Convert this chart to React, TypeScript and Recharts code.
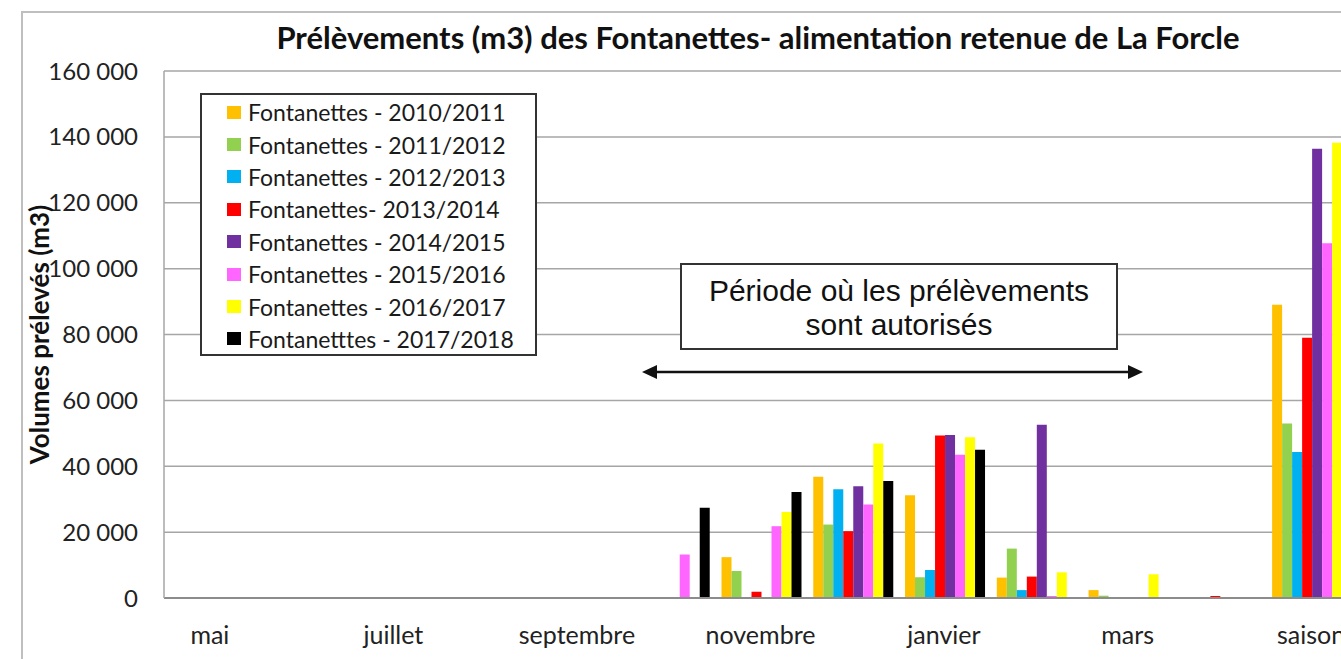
import { BarChart, Bar, CartesianGrid, XAxis, YAxis, Legend } from "recharts";

const months = [
  "mai",
  "juin",
  "juillet",
  "août",
  "septembre",
  "octobre",
  "novembre",
  "décembre",
  "janvier",
  "février",
  "mars",
  "avril",
  "saison",
];

const yTicks = [0, 20000, 40000, 60000, 80000, 100000, 120000, 140000, 160000];

const s2010 = [0, 0, 0, 0, 0, 0, 12400, 36800, 31200, 6200, 2400, 0, 89000];
const s2011 = [0, 0, 0, 0, 0, 0, 8200, 22300, 6300, 15000, 700, 0, 53000];
const s2012 = [0, 0, 0, 0, 0, 0, 0, 33000, 8500, 2400, 0, 0, 44300];
const s2013 = [0, 0, 0, 0, 0, 0, 1900, 20300, 49300, 6500, 0, 600, 79000];
const s2014 = [0, 0, 0, 0, 0, 0, 0, 33900, 49500, 52600, 0, 0, 136400];
const s2015 = [0, 0, 0, 0, 0, 13200, 21800, 28400, 43500, 600, 0, 0, 107700];
const s2016 = [0, 0, 0, 0, 0, 0, 26100, 46900, 48800, 7800, 7200, 0, 138200];
const s2017 = [0, 0, 0, 0, 0, 27400, 32200, 35500, 45000, 0, 0, 0, 140000];

const series = [
  { key: "s2010", name: "Fontanettes - 2010/2011", color: "#FFC000", values: s2010 },
  { key: "s2011", name: "Fontanettes - 2011/2012", color: "#92D050", values: s2011 },
  { key: "s2012", name: "Fontanettes - 2012/2013", color: "#00B0F0", values: s2012 },
  { key: "s2013", name: "Fontanettes- 2013/2014", color: "#FF0000", values: s2013 },
  { key: "s2014", name: "Fontanettes - 2014/2015", color: "#7030A0", values: s2014 },
  { key: "s2015", name: "Fontanettes - 2015/2016", color: "#FF66FF", values: s2015 },
  { key: "s2016", name: "Fontanettes - 2016/2017", color: "#FFFF00", values: s2016 },
  { key: "s2017", name: "Fontanetttes - 2017/2018", color: "#000000", values: s2017 },
];

const data = months.map((m, i) => {
  const row: Record<string, string | number> = { month: m };
  series.forEach((s) => {
    row[s.key] = s.values[i];
  });
  return row;
});

const fmt = (v: number) => String(v).replace(/\B(?=(\d{3})+(?!\d))/g, " ");

const LegendBox = () => (
  <div
    style={{
      width: 337,
      height: 263,
      boxSizing: "border-box",
      border: "2px solid #333",
      background: "#fff",
      paddingTop: 1,
      paddingLeft: 25,
      fontFamily: "Lato, sans-serif",
      fontSize: 23,
      color: "#1a1a1a",
    }}
  >
    {series.map((s) => (
      <div
        key={s.key}
        style={{ height: 32.4, display: "flex", alignItems: "center" }}
      >
        <span
          style={{
            display: "inline-block",
            width: 14,
            height: 13,
            background: s.color,
            marginRight: 7,
          }}
        />
        <span>{s.name}</span>
      </div>
    ))}
  </div>
);

const App = () => {
  return (
    <div
      style={{
        position: "fixed",
        left: 0,
        top: 0,
        width: 1341,
        height: 659,
        overflow: "hidden",
        background: "#fff",
      }}
    >
      <div style={{ position: "absolute", left: 8, top: 8, width: 1400, height: 651 }}>
        <div
          style={{
            position: "absolute",
            left: 13,
            top: 3,
            width: 1500,
            height: 800,
            border: "2px solid #bfbfbf",
          }}
        />
        <div
          style={{
            position: "absolute",
            left: 150,
            top: 10,
            width: 1200,
            textAlign: "center",
            fontFamily: "Lato, sans-serif",
            fontWeight: 700,
            fontSize: 31,
            lineHeight: "38px",
            color: "#111",
          }}
        >
          Prélèvements (m3) des Fontanettes- alimentation retenue de La Forcle
        </div>
        <div style={{ position: "absolute", left: 0, top: 0 }}>
          <BarChart
            width={1369}
            height={643}
            data={data}
            margin={{ top: 63, right: 20, left: 32, bottom: 8 }}
            barCategoryGap="7.5%"
            barGap={0}
          >
            <CartesianGrid
              vertical={false}
              stroke="#a6a6a6"
              strokeWidth={1.5}
            />
            <XAxis
              dataKey="month"
              interval={1}
              tickLine={false}
              tickSize={0}
              tickMargin={28}
              height={45}
              axisLine={{ stroke: "#8c8c8c", strokeWidth: 2 }}
              tick={{ fill: "#222", fontSize: 25, fontFamily: "Lato, sans-serif" }}
            />
            <YAxis
              width={124}
              domain={[0, 160000]}
              ticks={yTicks}
              tickFormatter={fmt}
              tickLine={false}
              tickSize={0}
              tickMargin={26}
              axisLine={{ stroke: "#a6a6a6", strokeWidth: 1.5 }}
              tick={{ fill: "#222", fontSize: 24, fontFamily: "Lato, sans-serif" }}
              label={{
                value: "Volumes prélevés (m3)",
                angle: -90,
                position: "insideLeft",
                offset: 0,
                textAnchor: "middle",
                style: {
                  fontFamily: "Lato, sans-serif",
                  fontWeight: 700,
                  fontSize: 26,
                  fill: "#111",
                },
              }}
            />
            <Legend
              layout="vertical"
              align="center"
              verticalAlign="middle"
              content={() => <LegendBox />}
              wrapperStyle={{ left: 192, top: 85, width: 337, height: 263 }}
            />
            {series.map((s) => (
              <Bar
                key={s.key}
                dataKey={s.key}
                name={s.name}
                fill={s.color}
                isAnimationActive={false}
              />
            ))}
          </BarChart>
        </div>
        <div
          style={{
            position: "absolute",
            left: 672,
            top: 255,
            width: 438,
            height: 87,
            boxSizing: "border-box",
            border: "2px solid #333",
            background: "#fff",
            textAlign: "center",
            fontFamily: "'Liberation Sans', Arial, sans-serif",
            fontSize: 30,
            lineHeight: "34px",
            color: "#111",
            paddingTop: 9,
          }}
        >
          Période où les prélèvements
          <br />
          sont autorisés
        </div>
        <svg
          style={{ position: "absolute", left: 0, top: 0 }}
          width={1333}
          height={643}
        >
          <line x1={646} y1={364} x2={1123} y2={364} stroke="#111" strokeWidth={2.5} />
          <polygon points="634,364 649,357 649,371" fill="#111" />
          <polygon points="1135,364 1120,357 1120,371" fill="#111" />
        </svg>
      </div>
    </div>
  );
};

export default App;
